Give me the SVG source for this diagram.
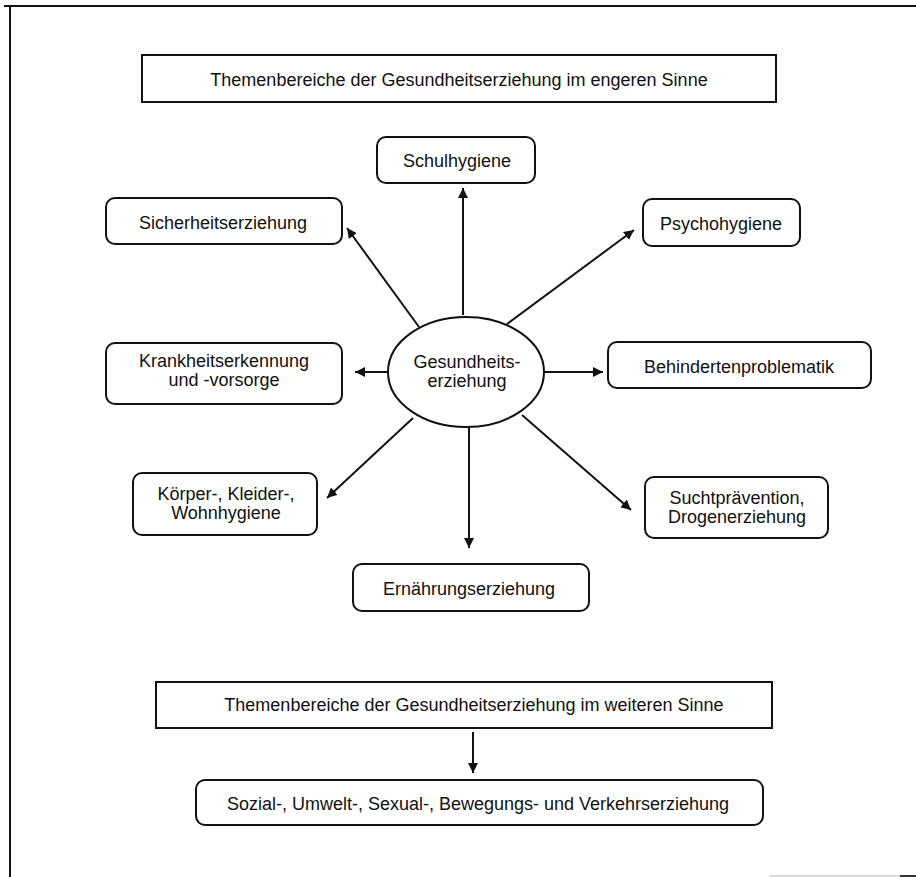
<svg xmlns="http://www.w3.org/2000/svg" width="916" height="877" viewBox="0 0 916 877">
<defs>
<style>
.bx{fill:#fff;stroke:#111;stroke-width:2}
.t{font-family:"Liberation Sans",Arial,Helvetica,sans-serif;font-size:18px;fill:#111;text-anchor:middle}
.ln{stroke:#111;stroke-width:2;fill:none;marker-end:url(#ah)}
.fr{stroke:#111;stroke-width:2}
</style>
<marker id="ah" viewBox="0 0 10 10" refX="10" refY="5" markerWidth="10" markerHeight="10" markerUnits="userSpaceOnUse" orient="auto">
<path d="M0,0 L10,5 L0,10 z" fill="#111"/>
</marker>
</defs>
<rect width="916" height="877" fill="#fff"/>
<g id="frame">
<line class="fr" x1="4" y1="6" x2="916" y2="6"/>
<line class="fr" x1="10" y1="6" x2="10" y2="877"/>
<line x1="770" y1="876" x2="900" y2="876" stroke="#ccc" stroke-width="1.5"/>
<line x1="900" y1="876" x2="916" y2="876" stroke="#333" stroke-width="2"/>
</g>
<g id="connectors">
<line class="ln" x1="463" y1="315" x2="463" y2="188"/>
<line class="ln" x1="419" y1="327" x2="347" y2="228"/>
<line class="ln" x1="507" y1="324" x2="634" y2="230"/>
<line class="ln" x1="544" y1="372" x2="603" y2="372"/>
<line class="ln" x1="387" y1="372" x2="355" y2="372"/>
<line class="ln" x1="413" y1="418" x2="327" y2="498"/>
<line class="ln" x1="469" y1="427" x2="469" y2="548"/>
<line class="ln" x1="522" y1="415" x2="631" y2="510"/>
<line class="ln" x1="473" y1="732" x2="473" y2="773"/>
</g>
<g id="top-title">
<rect class="bx" x="142" y="55" width="634" height="47"/>
<text class="t" x="459" y="86">Themenbereiche der Gesundheitserziehung im engeren Sinne</text>
</g>
<g id="center">
<ellipse class="bx" cx="466" cy="372" rx="78" ry="55"/>
<text class="t" x="467" y="368">Gesundheits-</text>
<text class="t" x="467" y="387">erziehung</text>
</g>
<g id="schulhygiene">
<rect class="bx" x="377" y="137" width="158" height="46" rx="9"/>
<text class="t" x="457" y="167">Schulhygiene</text>
</g>
<g id="sicherheit">
<rect class="bx" x="106" y="198" width="236" height="46" rx="9"/>
<text class="t" x="223" y="229">Sicherheitserziehung</text>
</g>
<g id="psychohygiene">
<rect class="bx" x="643" y="199" width="157" height="47" rx="9"/>
<text class="t" x="721" y="230">Psychohygiene</text>
</g>
<g id="krankheit">
<rect class="bx" x="106" y="343" width="236" height="61" rx="9"/>
<text class="t" x="224" y="367">Krankheitserkennung</text>
<text class="t" x="224" y="386">und -vorsorge</text>
</g>
<g id="behinderten">
<rect class="bx" x="608" y="342" width="263" height="46" rx="9"/>
<text class="t" x="739" y="373">Behindertenproblematik</text>
</g>
<g id="koerper">
<rect class="bx" x="133" y="473" width="184" height="62" rx="9"/>
<text class="t" x="226" y="500">Körper-, Kleider-,</text>
<text class="t" x="226" y="519">Wohnhygiene</text>
</g>
<g id="sucht">
<rect class="bx" x="645" y="477" width="183" height="61" rx="9"/>
<text class="t" x="737" y="504">Suchtprävention,</text>
<text class="t" x="737" y="523">Drogenerziehung</text>
</g>
<g id="ernaehrung">
<rect class="bx" x="353" y="564" width="236" height="47" rx="9"/>
<text class="t" x="469" y="595">Ernährungserziehung</text>
</g>
<g id="bottom-title">
<rect class="bx" x="156" y="682" width="616" height="46"/>
<text class="t" x="474" y="711">Themenbereiche der Gesundheitserziehung im weiteren Sinne</text>
</g>
<g id="sozial">
<rect class="bx" x="196" y="780" width="567" height="45" rx="9"/>
<text class="t" x="478" y="810">Sozial-, Umwelt-, Sexual-, Bewegungs- und Verkehrserziehung</text>
</g>
</svg>
